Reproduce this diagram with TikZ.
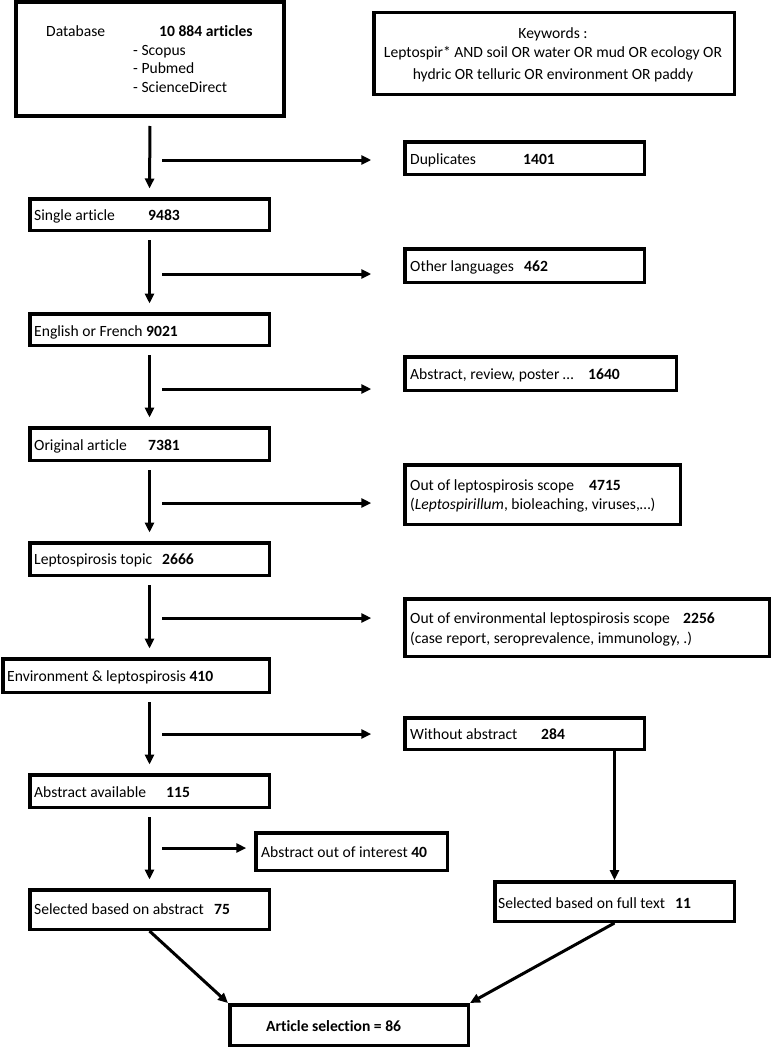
\documentclass[tikz,border=0pt]{standalone}
\usepackage{fontspec}
\setmainfont{Carlito}[Ligatures={TeX,NoCommon}]
\usetikzlibrary{arrows.meta}
\begin{document}
\begin{tikzpicture}[x=1pt,y=-1pt,
  box/.style={draw, line width=3.5pt, inner sep=0pt, rectangle},
  txt/.style={anchor=base west, inner sep=0pt, font=\fontsize{15.6}{19}\selectfont},
  ctxt/.style={anchor=base, inner sep=0pt, font=\fontsize{15.6}{19}\selectfont},
  flow/.style={line width=3pt, -{Triangle[length=10pt,width=9pt]}},
  down/.style={flow, shorten <=8pt, shorten >=8.5pt},
]
\useasboundingbox (0,0) rectangle (772,1049);

% boxes
\node[box, line width=4pt, minimum width=268pt, minimum height=114pt] (db) at (150,59) {};
\node[box, minimum width=360.5pt, minimum height=81.5pt] (kw) at (554,53.5) {};
\node[box, minimum width=239.5pt, minimum height=32.5pt] (dup) at (524.5,158) {};
\node[box, minimum width=239.5pt, minimum height=31.5pt] (single) at (149.5,214.5) {};
\node[box, minimum width=239.5pt, minimum height=33.5pt] (lang) at (524.5,265.5) {};
\node[box, minimum width=239.5pt, minimum height=31.5pt] (eng) at (149.5,329.5) {};
\node[box, minimum width=271.5pt, minimum height=33.5pt] (absrev) at (540.5,373.5) {};
\node[box, minimum width=239.5pt, minimum height=32.5pt] (orig) at (149.5,444) {};
\node[box, minimum width=275.5pt, minimum height=59.5pt] (scope) at (542.5,494.5) {};
\node[box, minimum width=239.5pt, minimum height=32.5pt] (topic) at (149.5,559) {};
\node[box, minimum width=364.5pt, minimum height=57.5pt] (envscope) at (587,627.5) {};
\node[box, minimum width=266.5pt, minimum height=33.5pt] (envlep) at (136,675.5) {};
\node[box, minimum width=239.5pt, minimum height=31.5pt] (without) at (524.5,733.5) {};
\node[box, minimum width=239.5pt, minimum height=32.5pt] (avail) at (149.5,791) {};
\node[box, minimum width=191.5pt, minimum height=37.5pt] (interest) at (351.5,851.5) {};
\node[box, minimum width=239.5pt, minimum height=39.5pt] (selabs) at (149.5,909.5) {};
\node[box, minimum width=239.5pt, minimum height=39.5pt] (full) at (614.5,901.5) {};
\node[box, minimum width=238.5pt, minimum height=40.5pt] (artsel) at (349,1025) {};

% texts
\node[txt] (tdb1) at (46,37) {Database};
\node[txt] (tdb2) at (159,37) {\textbf{10 884 articles}};
\node[txt] (tdb3) at (133,55.5) {- Scopus};
\node[txt] (tdb4) at (133,74) {- Pubmed};
\node[txt] (tdb5) at (133,92.5) {- ScienceDirect};
\node[ctxt] (tkw1) at (553,39) {Keywords :};
\node[ctxt] (tkw2) at (553,58) {Leptospir* AND soil OR water OR mud OR ecology OR};
\node[ctxt] (tkw3) at (553,79) {hydric OR telluric OR environment OR paddy};
\node[txt] (tdup) at (410,164) {\makebox[113pt][l]{Duplicates}\textbf{1401}};
\node[txt] (tsingle) at (34,220) {\makebox[114pt][l]{Single article}\textbf{9483}};
\node[txt] (tlang) at (410,271) {\makebox[114pt][l]{Other languages}\textbf{462}};
\node[txt] (teng) at (34,336) {English or French \textbf{9021}};
\node[txt] (tabsrev) at (410,379) {\makebox[178pt][l]{Abstract, review, poster …}\textbf{1640}};
\node[txt] (torig) at (34,450) {\makebox[114pt][l]{Original article}\textbf{7381}};
\node[txt] (tscope1) at (410,490) {\makebox[179pt][l]{Out of leptospirosis scope}\textbf{4715}};
\node[txt] (tscope2) at (410,509) {(\textit{Leptospirillum}, bioleaching, viruses,…)};
\node[txt] (ttopic) at (34,564) {\makebox[128pt][l]{Leptospirosis topic}\textbf{2666}};
\node[txt] (tenv1) at (410,623) {\makebox[273pt][l]{Out of environmental leptospirosis scope}\textbf{2256}};
\node[txt] (tenv2) at (410,643) {(case report, seroprevalence, immunology, .)};
\node[txt] (tenvlep) at (7,681) {Environment \& leptospirosis \textbf{410}};
\node[txt] (twithout) at (410,739) {\makebox[131pt][l]{Without abstract}\textbf{284}};
\node[txt] (tavail) at (34,797) {\makebox[132pt][l]{Abstract available}\textbf{115}};
\node[txt] (tinterest) at (261,857) {Abstract out of interest \textbf{40}};
\node[txt] (tselabs) at (34,914) {\makebox[180pt][l]{Selected based on abstract}\textbf{75}};
\node[txt] (tfull) at (498,908) {\makebox[177pt][l]{Selected based on full text}\textbf{11}};
\node[txt] (tart) at (266,1031) {\textbf{Article selection = 86}};

% main vertical arrows
\draw[down] (db.south) -- (single.north);
\draw[down] (single.south) -- (eng.north);
\draw[down] (eng.south) -- (orig.north);
\draw[down] (orig.south) -- (topic.north);
\draw[down] (topic.south) -- (topic.south |- envlep.north);
\draw[down] (topic.south |- envlep.south) -- (avail.north);
\draw[down] (avail.south) -- (selabs.north);

% side arrows
\coordinate (s1) at (162,160);
\coordinate (s2) at (162,274);
\coordinate (s3) at (162,389);
\coordinate (s4) at (162,503);
\coordinate (s5) at (162,618);
\coordinate (s6) at (162,734);
\coordinate (s7) at (162,848);
\draw[flow, shorten >=31.75pt] (s1) -- (s1 -| dup.west);
\draw[flow, shorten >=31.75pt] (s2) -- (s2 -| lang.west);
\draw[flow, shorten >=31.75pt] (s3) -- (s3 -| absrev.west);
\draw[flow, shorten >=31.75pt] (s4) -- (s4 -| scope.west);
\draw[flow, shorten >=31.75pt] (s5) -- (s5 -| envscope.west);
\draw[flow, shorten >=31.75pt] (s6) -- (s6 -| without.west);
\draw[flow, shorten >=7.75pt] (s7) -- (s7 -| interest.west);

% right branch
\draw[flow, line width=2.4pt] (without.south -| full.north) -- (full.north);
\draw[flow] (selabs.south) -- (artsel.north west);
\draw[flow] (full.south) -- (artsel.north east);
\end{tikzpicture}
\end{document}
